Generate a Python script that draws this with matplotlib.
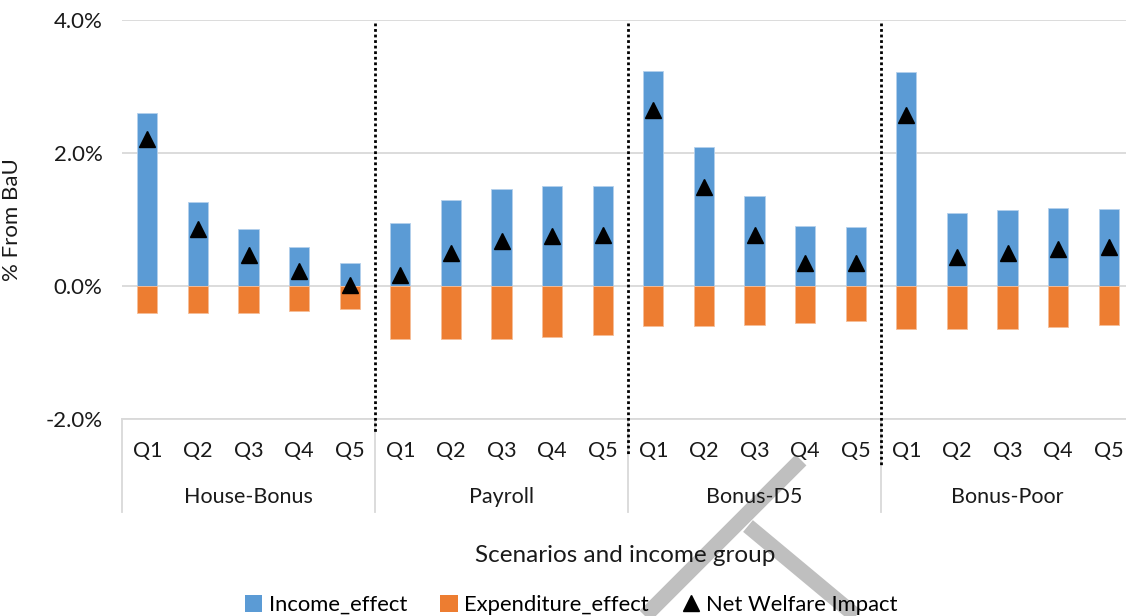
import matplotlib.pyplot as plt
from matplotlib.patches import Patch
from matplotlib.lines import Line2D
from matplotlib.ticker import FuncFormatter
import numpy as np

# scenarios and income quintiles
scenarios = ["House-Bonus", "Payroll", "Bonus-D5", "Bonus-Poor"]
quintiles = ["Q1", "Q2", "Q3", "Q4", "Q5"]

# % change from BaU, per scenario, Q1..Q5
income_effect = [
    2.60, 1.26, 0.85, 0.59, 0.35,
    0.95, 1.29, 1.46, 1.51, 1.50,
    3.24, 2.09, 1.35, 0.90, 0.88,
    3.22, 1.10, 1.14, 1.17, 1.16,
]
expenditure_effect = [
    -0.40, -0.41, -0.40, -0.37, -0.35,
    -0.79, -0.80, -0.79, -0.77, -0.73,
    -0.60, -0.60, -0.59, -0.56, -0.53,
    -0.65, -0.65, -0.64, -0.62, -0.58,
]
net_welfare = [
    2.21, 0.86, 0.46, 0.22, 0.01,
    0.16, 0.49, 0.67, 0.75, 0.77,
    2.65, 1.49, 0.76, 0.34, 0.35,
    2.57, 0.44, 0.50, 0.56, 0.58,
]

BLUE = "#5B9BD5"
ORANGE = "#ED7D31"
GRID = "#D9D9D9"
TXT = "#1a1a1a"

plt.rcParams["font.family"] = ["Lato", "DejaVu Sans"]

W, H = 1126, 616
fig = plt.figure(figsize=(W / 100, H / 100), dpi=100)
ax = fig.add_axes([122 / W, (H - 419) / H, (1134 - 122) / W, (419 - 20) / H])
ax.patch.set_visible(False)

x = np.arange(len(income_effect))
ax.bar(x, income_effect, width=0.4, color=BLUE, edgecolor="#B4D0EC", linewidth=0.6, zorder=2)
ax.bar(x, expenditure_effect, width=0.4, color=ORANGE, edgecolor="#F6BE98", linewidth=0.6, zorder=2)
ax.plot(x, net_welfare, linestyle="none", marker="^", markersize=11, color="black", zorder=3)

ax.set_xlim(-0.5, len(x) - 0.5)
ax.set_ylim(-2, 4)
ax.set_yticks([-2, 0, 2, 4])
ax.yaxis.set_major_formatter(FuncFormatter(lambda v, _: f"{v:.1f}%"))
ax.tick_params(axis="y", length=0, pad=14, labelsize=16, labelcolor=TXT)
ax.set_xticks([])
ax.grid(axis="y", color=GRID, linewidth=1.3, zorder=0)
for side in ["top", "right", "left"]:
    ax.spines[side].set_visible(False)
ax.spines["bottom"].set_color(GRID)
ax.spines["bottom"].set_linewidth(1.3)

ax.set_ylabel("% From BaU", fontsize=16, color=TXT)
ax.yaxis.set_label_coords(-0.099, 0.5)

# two-level category axis
xt = ax.get_xaxis_transform()
n = len(quintiles)
for i, xi in enumerate(x):
    ax.text(xi, -0.08, quintiles[i % n], transform=xt, ha="center", va="center",
            fontsize=15.5, color=TXT, zorder=5)
for g, name in enumerate(scenarios):
    ax.text(g * n + (n - 1) / 2, -0.195, name, transform=xt, ha="center", va="center",
            fontsize=15.5, color=TXT, zorder=5)
for b in range(len(scenarios) + 1):
    ax.plot([b * n - 0.5] * 2, [0, -0.233], transform=xt, color=GRID,
            linewidth=1.3, clip_on=False)

# dotted separators between scenarios
sep_bottoms = [-2.19, -2.54, -2.72]
for b, yb in enumerate(sep_bottoms, start=1):
    ax.plot([b * n - 0.5] * 2, [3.96, yb], color="black", linestyle=(0, (1, 1)),
            linewidth=2, clip_on=False, zorder=4)

fig.text(625 / W, 1 - 555 / H, "Scenarios and income group", ha="center", va="center",
         fontsize=17.5, color=TXT, zorder=5)

handles = [
    Patch(facecolor=BLUE, label="Income_effect"),
    Patch(facecolor=ORANGE, label="Expenditure_effect"),
    Line2D([], [], linestyle="none", marker="^", markersize=11, color="black",
           label="Net Welfare Impact"),
]
leg = fig.legend(handles=handles, loc="center", bbox_to_anchor=(571 / W, 1 - 605 / H), ncol=3,
                 frameon=False, fontsize=15.8, handlelength=0.8, handleheight=0.8,
                 handletextpad=0.3, columnspacing=1.5, borderaxespad=0)
leg.set_zorder(5)

# grey stamp strokes over the lower right, behind the text
fig.add_artist(Line2D([801 / W, 645 / W], [1 - 460 / H, 1 - 616 / H], color="#BFBFBF",
                      linewidth=11, solid_capstyle="butt", zorder=-1))
fig.add_artist(Line2D([748 / W, 856 / W], [1 - 526 / H, 1 - 616 / H], color="#BFBFBF",
                      linewidth=11, solid_capstyle="butt", zorder=-1))

fig.savefig("out.png", dpi=100, facecolor="white")
